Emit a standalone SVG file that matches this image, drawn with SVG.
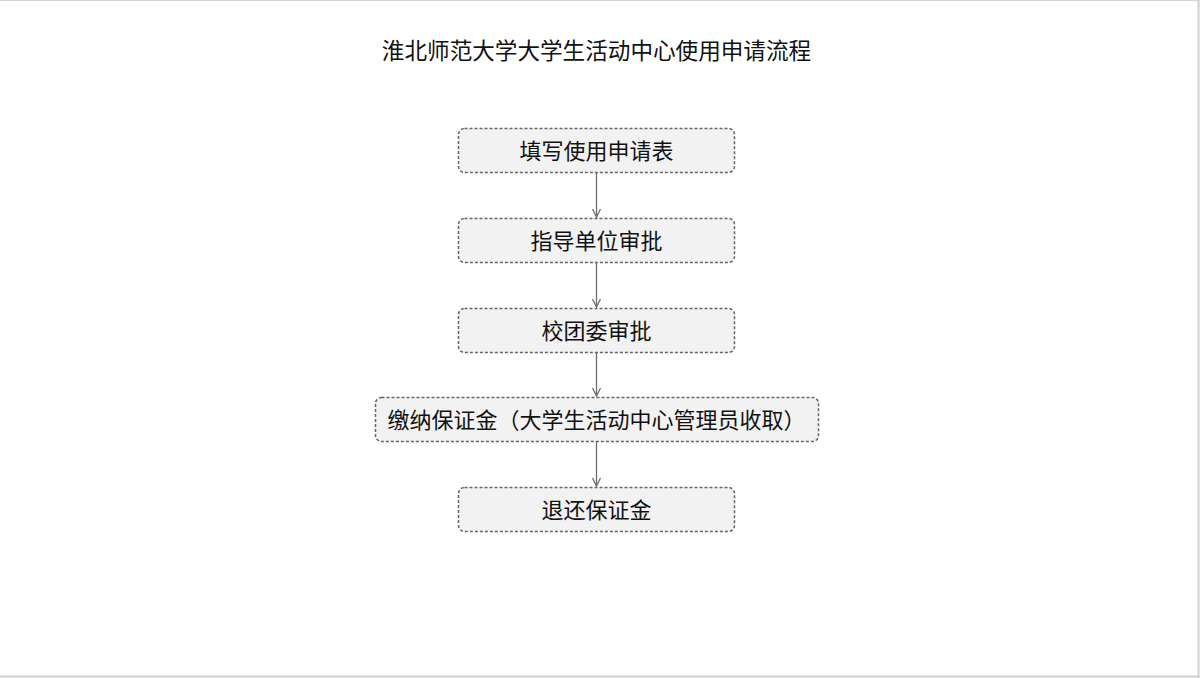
<svg xmlns="http://www.w3.org/2000/svg" width="1200" height="678" viewBox="0 0 1200 678">
<defs>
<style>
.box{fill:#f2f2f2;stroke:#666666;stroke-width:1.5;stroke-dasharray:3 2}
.lbl{font-family:"Noto Sans CJK SC","Liberation Sans",sans-serif;font-size:22px;fill:#111;text-anchor:middle}
.ttl{font-family:"Noto Sans CJK SC","Liberation Sans",sans-serif;font-size:22.6px;fill:#111;text-anchor:middle}
.conn{stroke:#6e6e6e;stroke-width:1.3;fill:none}
</style>
<marker id="arr" viewBox="0 0 10 10" refX="9" refY="5" markerWidth="10" markerHeight="10" markerUnits="userSpaceOnUse" orient="auto">
<path d="M1,1 L9,5 L1,9" fill="none" stroke="#6e6e6e" stroke-width="1.3"/>
</marker>
</defs>
<rect x="0" y="0" width="1200" height="678" fill="#ffffff"/>
<line x1="0" y1="0.5" x2="1200" y2="0.5" stroke="#d4d4d4" stroke-width="1"/>
<line x1="1198.5" y1="0" x2="1198.5" y2="678" stroke="#d0d0d0" stroke-width="2"/>
<line x1="0" y1="676.5" x2="1200" y2="676.5" stroke="#d0d0d0" stroke-width="2"/>
<text class="ttl" x="596.5" y="59">淮北师范大学大学生活动中心使用申请流程</text>
<g id="connectors">
<line class="conn" x1="596.5" y1="172" x2="596.5" y2="217" marker-end="url(#arr)"/>
<line class="conn" x1="596.5" y1="262" x2="596.5" y2="307" marker-end="url(#arr)"/>
<line class="conn" x1="596.5" y1="352" x2="596.5" y2="396" marker-end="url(#arr)"/>
<line class="conn" x1="596.5" y1="441" x2="596.5" y2="486" marker-end="url(#arr)"/>
</g>
<g id="n1"><rect class="box" x="458.5" y="128.5" width="276" height="44" rx="6"/><text class="lbl" x="596.5" y="158.5">填写使用申请表</text></g>
<g id="n2"><rect class="box" x="458.5" y="218.5" width="276" height="44" rx="6"/><text class="lbl" x="596.5" y="248.5">指导单位审批</text></g>
<g id="n3"><rect class="box" x="458.5" y="308.5" width="276" height="44" rx="6"/><text class="lbl" x="596.5" y="338.5">校团委审批</text></g>
<g id="n4"><rect class="box" x="375.5" y="397.5" width="443" height="44" rx="6"/><text class="lbl" x="596.5" y="427.5">缴纳保证金（大学生活动中心管理员收取）</text></g>
<g id="n5"><rect class="box" x="458.5" y="487.5" width="276" height="44" rx="6"/><text class="lbl" x="596.5" y="517.5">退还保证金</text></g>
</svg>
